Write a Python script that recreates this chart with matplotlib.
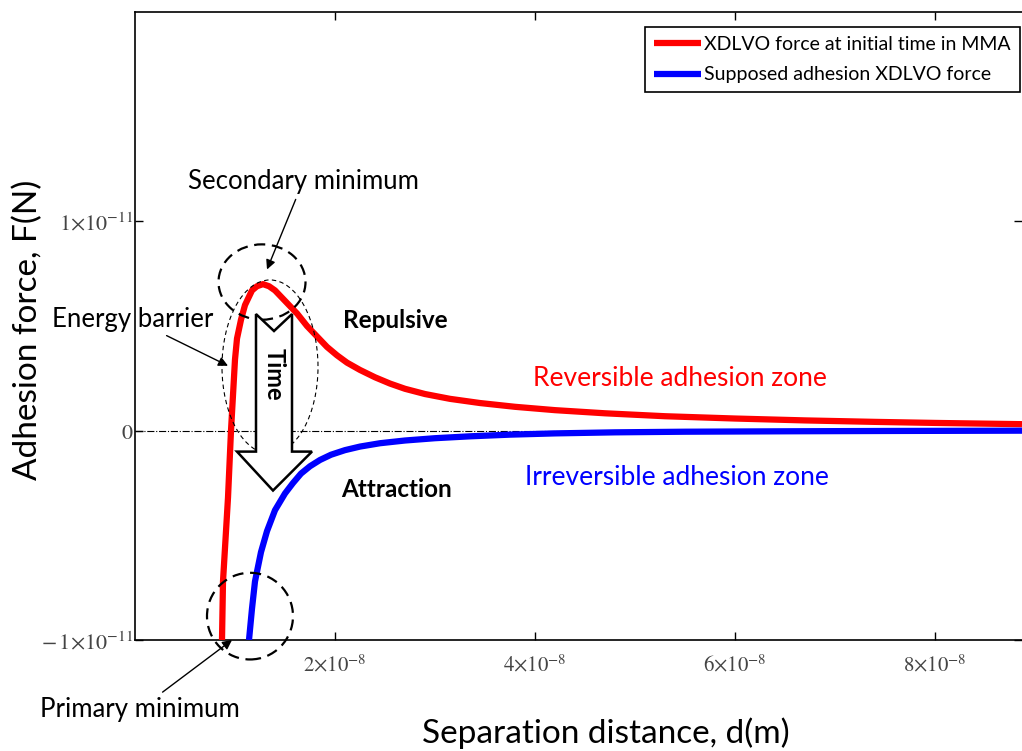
import numpy as np
import matplotlib.pyplot as plt
from matplotlib.patches import Polygon, Ellipse
from matplotlib.ticker import FixedLocator, FixedFormatter

plt.rcParams['font.family'] = ['Lato', 'DejaVu Sans']
plt.rcParams['mathtext.fontset'] = 'stix'

# data (x in 1e-8 m, F in 1e-11 N)
x_red = [0.87, 0.88, 0.93, 0.96, 1.00, 1.02, 1.06, 1.10, 1.17, 1.22, 1.28, 1.34, 1.40,
         1.50, 1.62, 1.72, 1.82, 1.92, 2.02, 2.12, 2.25, 2.40, 2.55, 2.70, 2.90, 3.15,
         3.45, 3.80, 4.20, 4.70, 5.30, 6.00, 6.70, 7.40, 8.00, 8.87]
f_red = [-1.00, -0.72, -0.32, 0.00, 0.34, 0.44, 0.53, 0.60, 0.67, 0.69, 0.70, 0.69, 0.67,
         0.62, 0.56, 0.50, 0.45, 0.40, 0.36, 0.325, 0.29, 0.255, 0.225, 0.20, 0.175, 0.152,
         0.132, 0.114, 0.098, 0.083, 0.069, 0.058, 0.049, 0.042, 0.037, 0.031]

x_blue = [1.14, 1.17, 1.20, 1.26, 1.32, 1.40, 1.50, 1.58, 1.66, 1.75, 1.85, 1.96, 2.10,
          2.25, 2.45, 2.70, 3.00, 3.35, 3.75, 4.20, 4.80, 5.50, 6.50, 7.50, 8.87]
f_blue = [-1.00, -0.85, -0.72, -0.58, -0.48, -0.38, -0.30, -0.25, -0.205, -0.17, -0.14,
          -0.115, -0.093, -0.076, -0.060, -0.047, -0.036, -0.027, -0.019, -0.013,
          -0.008, -0.005, -0.003, -0.0015, 0.0]

xticks = [2, 4, 6, 8]
xticklabels = [r'$2{\times}10^{-8}$', r'$4{\times}10^{-8}$', r'$6{\times}10^{-8}$', r'$8{\times}10^{-8}$']
yticks = [-1, 0, 1]
yticklabels = [r'$-\,1{\times}10^{-11}$', r'$0$', r'$1{\times}10^{-11}$']

X = 1e-8
Y = 1e-11

fig = plt.figure(figsize=(10.22, 7.51), dpi=100)
ax = fig.add_axes([135 / 1022, 111 / 751, 887 / 1022, 628 / 751])

ax.plot(np.array(x_red) * X, np.array(f_red) * Y, color='#ff0000', lw=4.5,
        solid_capstyle='butt', solid_joinstyle='round',
        label='XDLVO force at initial time in MMA', zorder=3)
ax.plot(np.array(x_blue) * X, np.array(f_blue) * Y, color='#0000ff', lw=4.5,
        solid_capstyle='butt', solid_joinstyle='round',
        label='Supposed adhesion XDLVO force', zorder=3)
ax.axhline(0, color='black', lw=0.8, ls='-.', zorder=1)

ax.set_xlim(0, 8.87 * X)
ax.set_ylim(-1 * Y, 2 * Y)

ax.xaxis.set_major_locator(FixedLocator([v * X for v in xticks]))
ax.xaxis.set_major_formatter(FixedFormatter(xticklabels))
ax.yaxis.set_major_locator(FixedLocator([v * Y for v in yticks]))
ax.yaxis.set_major_formatter(FixedFormatter(yticklabels))
ax.tick_params(direction='in', top=True, right=True, length=6, width=1,
               labelsize=15, labelcolor='#444444')
ax.tick_params(axis='x', pad=10)
ax.tick_params(axis='y', pad=1, labelsize=16)
ax.spines['right'].set_visible(False)
for s in ['left', 'top', 'bottom']:
    ax.spines[s].set_linewidth(1.2)

ax.set_xlabel('Separation distance, d(m)', fontsize=24, va='center')
ax.set_ylabel('Adhesion force, F(N)', fontsize=24, va='center')
ax.xaxis.set_label_coords(0.531, -0.148)
ax.yaxis.set_label_coords(-0.121, 0.494)

leg = ax.legend(loc='upper right', bbox_to_anchor=(0.9975, 0.976), fontsize=14,
                handlelength=2.4, handletextpad=0.2, borderpad=0.45, labelspacing=0.7,
                fancybox=False, framealpha=1, edgecolor='black', borderaxespad=0)
leg.get_frame().set_linewidth(1.2)

# dashed circles
ax.add_patch(Ellipse((1.27 * X, 0.71 * Y), 0.87 * X, 0.36 * Y, fill=False,
                     ls=(0, (5, 3)), lw=1.6, color='black', zorder=4))
ax.add_patch(Ellipse((1.35 * X, 0.305 * Y), 0.96 * X, 0.83 * Y, fill=False,
                     ls=(0, (4, 3)), lw=0.8, color='black', zorder=4))
ax.add_patch(Ellipse((1.15 * X, -0.886 * Y), 0.86 * X, 0.414 * Y, fill=False,
                     ls=(0, (5, 3)), lw=1.6, color='black', zorder=4, clip_on=False))

# hollow "Time" arrow
arrow_pts = [(1.21, 0.557), (1.39, 0.476), (1.57, 0.557), (1.57, -0.10), (1.77, -0.10),
             (1.38, -0.286), (1.02, -0.10), (1.21, -0.10)]
ax.add_patch(Polygon([(a * X, b * Y) for a, b in arrow_pts], closed=True,
                     facecolor='white', edgecolor='black', lw=1.8, zorder=5))
ax.text(1.39 * X, 0.27 * Y, 'Time', rotation=-90, ha='center', va='center',
        fontsize=17, fontweight='bold', zorder=6)

arrow_kw = dict(arrowstyle='-|>', color='black', lw=1.0, mutation_scale=14,
                shrinkA=2, shrinkB=0)
ax.annotate('Secondary minimum', xy=(1.32 * X, 0.77 * Y), xytext=(1.68 * X, 1.19 * Y),
            ha='center', va='center', fontsize=18.5, arrowprops=arrow_kw, zorder=6)
ax.annotate('Energy barrier', xy=(0.93 * X, 0.31 * Y), xytext=(-0.02 * X, 0.533 * Y),
            ha='center', va='center', fontsize=18.5, arrowprops=arrow_kw, zorder=6,
            annotation_clip=False)
ax.annotate('Primary minimum', xy=(0.97 * X, -1.0 * Y), xytext=(0.05 * X, -1.33 * Y),
            ha='center', va='center', fontsize=18.5, arrowprops=arrow_kw, zorder=6,
            annotation_clip=False)

ax.text(2.60 * X, 0.524 * Y, 'Repulsive', ha='center', va='center', fontsize=17.5,
        fontweight='bold')
ax.text(2.62 * X, -0.281 * Y, 'Attraction', ha='center', va='center', fontsize=17.5,
        fontweight='bold')
ax.text(5.45 * X, 0.248 * Y, 'Reversible adhesion zone', ha='center', va='center',
        fontsize=19, color='#ff0000')
ax.text(5.42 * X, -0.224 * Y, 'Irreversible adhesion zone', ha='center', va='center',
        fontsize=19, color='#0000ff')

fig.savefig('out.png', dpi=100)
